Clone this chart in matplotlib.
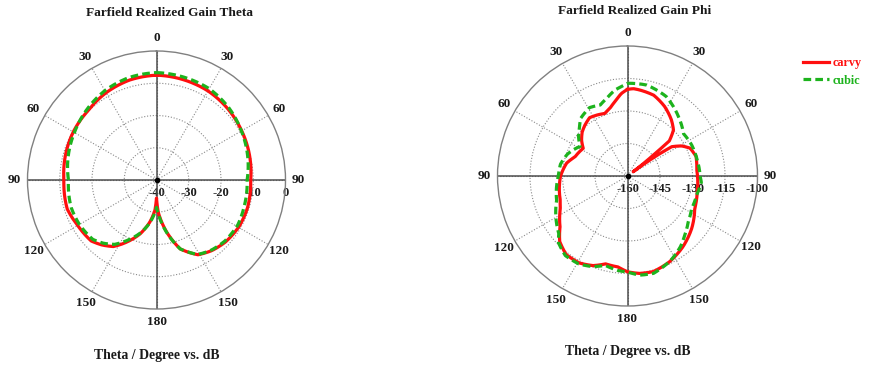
import numpy as np
import matplotlib
matplotlib.use("Agg")
import matplotlib.pyplot as plt
import matplotlib.transforms as mtransforms
from matplotlib.lines import Line2D

plt.rcParams['font.family'] = ['Liberation Serif', 'DejaVu Serif']
plt.rcParams['font.weight'] = 'bold'

# ---- Farfield realized gain, Theta component (angle clockwise from 0 deg, dB)
theta_ang_carvy = [0, 30, 45, 60, 90, 107, 119, 132, 142, 151, 161, 169, 177, 180,
                   183, 189, 197, 208, 213, 220, 227, 240, 252, 270, 300, 315, 330, 345]
theta_db_carvy = [-7.5, -8.1, -8.75, -9.5, -10.8, -10.5, -10.6, -11.25, -12.2, -13.5,
                  -17.4, -23.6, -30.1, -34.4, -30.6, -26.8, -22.5, -17.6, -15.4, -13.7,
                  -12.3, -11.8, -10.9, -11.3, -10.2, -9.8, -8.75, -7.9]

theta_ang_cubic = [0, 30, 45, 60, 90, 107, 119, 132, 142, 151, 161, 169, 177, 180,
                   183, 189, 197, 208, 213, 220, 227, 240, 252, 270, 300, 315, 330, 345]
theta_db_cubic = [-6.7, -7.3, -8.3, -9.6, -11.9, -11.6, -11.2, -11.6, -12.4, -13.6,
                  -17.4, -23.4, -29.5, -31.5, -29.8, -26.5, -22.8, -18.3, -16.2, -14.4,
                  -13.0, -12.4, -12.2, -12.7, -10.6, -9.3, -8.0, -7.1]

# ---- Farfield realized gain, Phi component (angle clockwise from 0 deg, dB)
phi_ang_carvy = [0, 4, 8, 18, 28, 38, 45, 50, 51, 53, 55, 56.5, 61, 66, 74, 85, 90, 103,
                 116, 129, 142, 154, 165, 173, 180, 186, 194, 201, 209, 218, 226, 233,
                 244, 250, 270, 282, 290, 302, 308, 314, 320, 327, 334, 340, 345.5, 350,
                 353.5, 356]
phi_db_carvy = [-120.0, -119.6, -119.9, -120.8, -123.6, -127.1, -130.0, -134.8, -144.6,
                -156.7, -144.0, -135.5, -131.4, -128.4, -127.1, -127.9, -127.7, -127.0,
                -125.5, -121.8, -118.5, -115.9, -114.3, -114.7, -115.8, -117.8, -118.2,
                -115.7, -114.1, -114.0, -116.5, -121.0, -125.5, -127.0, -129.1, -131.3,
                -134.2, -135.9, -133.1, -130.9, -129.4, -127.9, -128.6, -129.3, -127.7,
                -125.4, -123.2, -121.7]

phi_ang_cubic = [0, 12, 26, 41, 53, 64, 77, 90, 95, 105, 117, 127, 136, 143, 153, 165,
                 173, 180, 186, 194, 201, 209, 218, 226, 230, 251, 270, 280, 290, 296,
                 302, 309, 314, 321, 331, 339, 345, 352, 357]
phi_db_cubic = [-117.2, -117.1, -119.2, -124.0, -127.6, -127.1, -127.0, -126.5, -125.8,
                -126.9, -126.8, -124.9, -122.0, -119.3, -116.2, -113.5, -113.9, -115.7,
                -116.2, -117.5, -115.2, -113.6, -113.4, -115.7, -118.6, -125.4, -128.1,
                -128.6, -130.5, -132.3, -134.2, -130.9, -129.1, -125.7, -123.9, -124.9,
                -122.9, -119.8, -118.4]

theta_rings = [-40, -30, -20, -10, 0]
phi_rings = [-160, -145, -130, -115, -100]
angle_ticks = [0, 30, 60, 90, 120, 150, 180, 210, 240, 270, 300, 330]
angle_labels = ['0', '30', '60', '90', '120', '150', '180', '150', '120', '90', '60', '30']

series_names = ['carvy', 'cubic']
RED = '#ff0f0f'
GREEN = '#1db31d'
DASH = (0, (2.4, 1.3))

W, H = 869, 370
fig = plt.figure(figsize=(W / 100, H / 100), dpi=100)


def closed(ang, val):
    a = np.deg2rad(list(ang) + [ang[0] + 360])
    v = list(val) + [val[0]]
    return a, v


def polar_curve(ax, ang, val, **kw):
    a, v = closed(ang, val)
    line, = ax.plot(a, v, clip_on=False, **kw)
    # follow the polar grid between samples instead of straight chords
    line.get_path()._interpolation_steps = 24
    return line


def polar_panel(rect, rings, carvy, cubic):
    ax = fig.add_axes(rect, projection='polar')
    ax.set_theta_zero_location('N')
    ax.set_theta_direction(-1)
    ax.set_rlim(rings[0], rings[-1])
    ax.set_thetagrids(angle_ticks, labels=[''] * len(angle_ticks))
    ax.set_rgrids(rings[1:-1], labels=[''] * (len(rings) - 2))
    ax.grid(True, color='#8a8a8a', linestyle=(0, (1, 1.6)), linewidth=0.8)
    ax.spines['polar'].set_color('#808080')
    ax.spines['polar'].set_linewidth(1.0)
    ax.tick_params(length=0, pad=0)
    for ang in (0, 90, 180, 270):
        ax.axvline(np.deg2rad(ang), color='#4d4d4d', lw=1.1, zorder=2)
    ax.plot([0.5], [0.5], 'o', color='black', ms=3, transform=ax.transAxes, zorder=3)

    # angle labels around the rim
    for t, lab in zip(angle_ticks, angle_labels):
        tr = np.deg2rad(t)
        ax.text(0.5 + 0.55 * np.sin(tr), 0.5 + 0.55 * np.cos(tr), lab,
                transform=ax.transAxes, ha='center', va='center', fontsize=9.5,
                fontweight='bold', color='#1a1a1a')

    # radial value labels below the horizontal axis
    off = mtransforms.offset_copy(ax.transData, fig=fig, x=0, y=-13, units='dots')
    for r in rings:
        ax.text(np.pi / 2, r, str(r), transform=off, ha='center', va='center',
                fontsize=9, fontweight='bold', color='#1a1a1a', zorder=1)

    polar_curve(ax, *carvy, color=RED, lw=2.3, solid_joinstyle='round', zorder=4)
    polar_curve(ax, *cubic, color=GREEN, lw=2.3, linestyle=DASH, zorder=5)
    return ax


ax1 = polar_panel([27.5 / W, 61 / H, 258 / W, 258 / H], theta_rings,
                  (theta_ang_carvy, theta_db_carvy), (theta_ang_cubic, theta_db_cubic))
ax2 = polar_panel([497.5 / W, 64 / H, 260 / W, 260 / H], phi_rings,
                  (phi_ang_carvy, phi_db_carvy), (phi_ang_cubic, phi_db_cubic))

fig.text(170 / W, 1 - 12.5 / H, 'Farfield Realized Gain Theta', ha='center', va='center',
         fontsize=9.6, fontweight='bold', color='#1a1a1a')
fig.text(634.5 / W, 1 - 10.5 / H, 'Farfield Realized Gain Phi', ha='center', va='center',
         fontsize=9.6, fontweight='bold', color='#1a1a1a')
fig.text(157 / W, 1 - 356 / H, 'Theta / Degree vs. dB', ha='center', va='center',
         fontsize=9.9, fontweight='bold', color='#1a1a1a')
fig.text(628 / W, 1 - 352 / H, 'Theta / Degree vs. dB', ha='center', va='center',
         fontsize=9.9, fontweight='bold', color='#1a1a1a')

handles = [Line2D([], [], color=RED, lw=2.3),
           Line2D([], [], color=GREEN, lw=2.3, linestyle=DASH)]
fig.legend(handles, series_names, loc='center left',
           bbox_to_anchor=(792 / W, 1 - 72 / H), frameon=False,
           handlelength=2.2, handletextpad=0.3, labelspacing=0.45,
           labelcolor=[RED, GREEN], prop={'weight': 'bold', 'size': 8.7})

fig.savefig('out.png', dpi=100)
